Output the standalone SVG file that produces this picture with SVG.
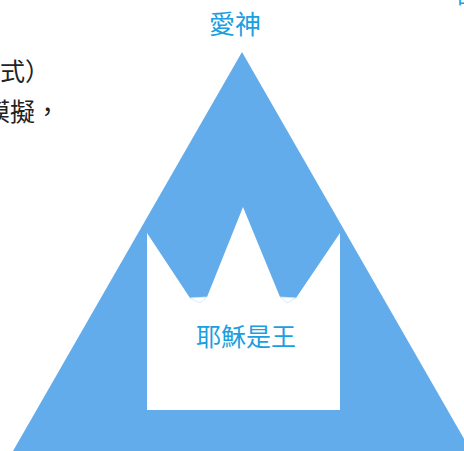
<svg xmlns="http://www.w3.org/2000/svg" width="464" height="451" viewBox="0 0 464 451">
<style>
.lbl{font-family:"Noto Sans CJK TC","Noto Sans CJK SC",sans-serif;fill:#1AA0DF}
.body{font-family:"Noto Sans CJK TC","Noto Sans CJK SC",sans-serif;fill:#222}
</style>
<rect width="464" height="451" fill="#fff"/>
<g id="text-left">
<text class="body" x="0" y="81" font-size="25">式）</text>
<text class="body" x="-15" y="121" font-size="25">模擬，</text>
</g>
<g id="text-right">
<text class="lbl" x="457" y="9" font-size="22">中</text>
<text class="lbl" x="458" y="44" font-size="22">、</text>
</g>
<g id="triangle">
<polygon points="242,52 13,451 471,451" fill="#63ACEB"/>
</g>
<g id="crown">
<polygon points="147,233 190,298 207,297 243,207 280,297 296,298 340,233 340,410 147,410" fill="#fff"/>
<polygon points="190,298 207,297 200,303" fill="#fff" stroke="#cde4f6" stroke-width="0.8"/>
<polygon points="280,297 296,298 287,303" fill="#fff" stroke="#cde4f6" stroke-width="0.8"/>
</g>
<g id="label-top">
<text class="lbl" x="235" y="34" font-size="26" text-anchor="middle">愛神</text>
</g>
<g id="label-crown">
<text class="lbl" x="246" y="346" font-size="25" text-anchor="middle">耶穌是王</text>
</g>
</svg>
